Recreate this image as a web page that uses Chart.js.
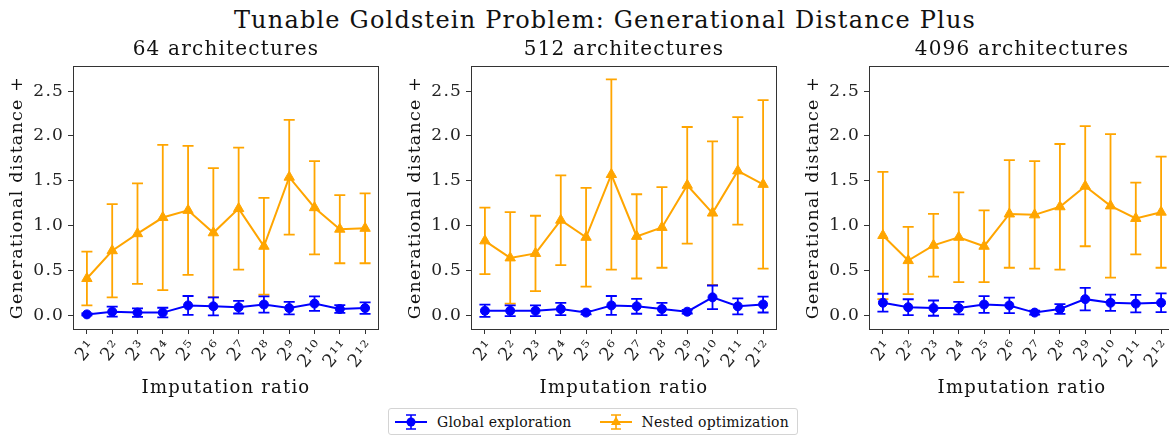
<!DOCTYPE html>
<html>
<head>
<meta charset="utf-8">
<script src="https://cdn.jsdelivr.net/npm/chart.js"></script>
<style>
  html, body { margin: 0; padding: 0; background: #fff; }
  body { width: 1169px; height: 435px; position: relative; overflow: hidden;
         font-family: "DejaVu Serif", serif; color: #111; }
  #suptitle { position: absolute; left: 0; width: 1210px; top: 5px; text-align: center;
              font-size: 24px; letter-spacing: 1.2px; line-height: 30px; }
  .panel { position: absolute; top: 0; }
  #legend { position: absolute; left: 388px; top: 408px; width: 408px; height: 25px;
            border: 1px solid #d4d4d4; border-radius: 3px; display: flex; align-items: center;
            font-size: 14px; letter-spacing: 0.2px; }
  #legend .item { display: flex; align-items: center; }
  #legend canvas { margin: 0 10px 0 6px; }
</style>
</head>
<body>
<div id="suptitle">Tunable Goldstein Problem: Generational Distance Plus</div>
<canvas id="c0" class="panel" width="390" height="400" style="left:0px"></canvas>
<canvas id="c1" class="panel" width="390" height="400" style="left:398px"></canvas>
<canvas id="c2" class="panel" width="390" height="400" style="left:796px"></canvas>
<div id="legend">
  <div class="item"><canvas id="lg0" width="32" height="20"></canvas><span>Global exploration</span></div>
  <div class="item" style="margin-left:22px"><canvas id="lg1" width="32" height="20"></canvas><span>Nested optimization</span></div>
</div>
<script>
const ratioLabels = ['2¹', '2²', '2³', '2⁴', '2⁵', '2⁶', '2⁷', '2⁸', '2⁹', '2¹⁰', '2¹¹', '2¹²'];
const panelTitles = ['64 architectures', '512 architectures', '4096 architectures'];
const yTicks = [0, 0.5, 1.0, 1.5, 2.0, 2.5];

// mean and standard deviation per imputation ratio
const global64 = [0.01, 0.04, 0.03, 0.03, 0.11, 0.10, 0.09, 0.12, 0.08, 0.13, 0.07, 0.08];
const global64Err = [0.01, 0.056, 0.047, 0.054, 0.105, 0.10, 0.07, 0.09, 0.07, 0.08, 0.043, 0.064];
const nested64 = [0.41, 0.72, 0.91, 1.09, 1.17, 0.92, 1.19, 0.77, 1.54, 1.20, 0.96, 0.97];
const nested64Err = [0.30, 0.52, 0.56, 0.81, 0.72, 0.72, 0.68, 0.54, 0.64, 0.52, 0.38, 0.39];

const global512 = [0.05, 0.05, 0.05, 0.07, 0.03, 0.11, 0.10, 0.07, 0.04, 0.20, 0.10, 0.12];
const global512Err = [0.068, 0.06, 0.06, 0.068, 0.02, 0.105, 0.083, 0.068, 0.02, 0.132, 0.089, 0.089];
const nested512 = [0.83, 0.64, 0.69, 1.06, 0.87, 1.57, 0.88, 0.98, 1.45, 1.14, 1.61, 1.46];
const nested512Err = [0.37, 0.51, 0.42, 0.50, 0.55, 1.06, 0.47, 0.45, 0.65, 0.80, 0.60, 0.94];

const global4096 = [0.14, 0.09, 0.08, 0.08, 0.12, 0.11, 0.03, 0.07, 0.18, 0.14, 0.13, 0.14];
const global4096Err = [0.10, 0.089, 0.085, 0.07, 0.093, 0.087, 0.022, 0.054, 0.125, 0.09, 0.097, 0.104];
const nested4096 = [0.89, 0.61, 0.78, 0.87, 0.77, 1.13, 1.12, 1.21, 1.44, 1.22, 1.08, 1.15];
const nested4096Err = [0.71, 0.375, 0.35, 0.50, 0.40, 0.60, 0.60, 0.70, 0.67, 0.80, 0.40, 0.62];

const panels = [
  [global64, global64Err, nested64, nested64Err],
  [global512, global512Err, nested512, nested512Err],
  [global4096, global4096Err, nested4096, nested4096Err]
];

const BLUE = '#0000ff';
const ORANGE = '#ffa500';
const FONT = '"DejaVu Serif", serif';
const CAP = 5.5;

// slightly wider text set on the canvas context before layout and drawing
const spacing = {
  id: 'spacing',
  beforeLayout(chart) { chart.ctx.letterSpacing = '1.2px'; },
  beforeDraw(chart) { chart.ctx.letterSpacing = '1.2px'; }
};

// vertical error bars with caps, drawn just before each line
const errorBars = {
  id: 'errorBars',
  beforeDatasetDraw(chart, args) {
    const ds = chart.data.datasets[args.index];
    const y = chart.scales.y;
    const ctx = chart.ctx;
    ctx.save();
    ctx.strokeStyle = ds.borderColor;
    ctx.lineWidth = 1.8;
    args.meta.data.forEach((pt, i) => {
      const m = ds.data[i].y, e = ds.errors[i];
      const top = y.getPixelForValue(m + e), bot = y.getPixelForValue(m - e);
      ctx.beginPath();
      ctx.moveTo(pt.x, top); ctx.lineTo(pt.x, bot);
      ctx.moveTo(pt.x - CAP, top); ctx.lineTo(pt.x + CAP, top);
      ctx.moveTo(pt.x - CAP, bot); ctx.lineTo(pt.x + CAP, bot);
      ctx.stroke();
    });
    ctx.restore();
  }
};

// box around the plotting area
const frame = {
  id: 'frame',
  afterDatasetsDraw(chart) {
    const a = chart.chartArea, ctx = chart.ctx;
    ctx.save();
    ctx.strokeStyle = '#333';
    ctx.lineWidth = 1;
    ctx.strokeRect(a.left + 0.5, a.top + 0.5, a.right - a.left - 1, a.bottom - a.top);
    ctx.restore();
  }
};

function toPoints(arr) { return arr.map((v, i) => ({ x: i, y: v })); }

panels.forEach(([g, gErr, n, nErr], k) => {
  new Chart(document.getElementById('c' + k), {
    type: 'line',
    data: {
      datasets: [
        {
          label: 'Global exploration',
          data: toPoints(g), errors: gErr,
          borderColor: BLUE, backgroundColor: BLUE, borderWidth: 2,
          pointStyle: 'circle', pointRadius: 4.5, pointBorderWidth: 1,
          pointBackgroundColor: BLUE, pointBorderColor: BLUE
        },
        {
          label: 'Nested optimization',
          data: toPoints(n), errors: nErr,
          borderColor: ORANGE, backgroundColor: ORANGE, borderWidth: 2,
          pointStyle: 'triangle', pointRadius: 6, pointBorderWidth: 1,
          pointBackgroundColor: ORANGE, pointBorderColor: ORANGE
        }
      ]
    },
    options: {
      responsive: false,
      animation: false,
      layout: { padding: { left: 0, right: 11, top: 0, bottom: 0 } },
      plugins: {
        legend: { display: false },
        tooltip: { enabled: false },
        title: {
          display: true, fullSize: false, text: panelTitles[k], color: '#111',
          font: { family: FONT, size: 20, weight: 'normal' },
          padding: { top: 38, bottom: 4 }
        }
      },
      scales: {
        x: {
          type: 'linear', min: -0.55, max: 11.55,
          afterBuildTicks: s => { s.ticks = ratioLabels.map((_, i) => ({ value: i })); },
          afterFit: s => { s.height = 71; },
          grid: { drawOnChartArea: false, drawTicks: true, tickLength: 5, color: '#333' },
          border: { display: false },
          ticks: {
            autoSkip: false,
            minRotation: 50, maxRotation: 50, padding: 2, labelOffset: 6, color: '#222',
            font: { family: FONT, size: 18 },
            callback: v => ratioLabels[v]
          },
          title: {
            display: true, text: 'Imputation ratio', color: '#111',
            font: { family: FONT, size: 18 }, padding: { top: 0, bottom: 1 }
          }
        },
        y: {
          min: -0.153, max: 2.78,
          afterBuildTicks: s => { s.ticks = yTicks.map(v => ({ value: v })); },
          afterFit: s => { s.width = 73; },
          grid: { drawOnChartArea: false, drawTicks: true, tickLength: 5, color: '#333' },
          border: { display: false },
          ticks: {
            padding: 4, color: '#222',
            font: { family: FONT, size: 17 },
            callback: v => v.toFixed(1)
          },
          title: {
            display: true, text: 'Generational distance +', color: '#111',
            font: { family: FONT, size: 17.5 }, padding: { top: 7, bottom: 0 }
          }
        }
      }
    },
    plugins: [spacing, errorBars, frame]
  });
});

// legend handles: line, error bar and marker
function drawHandle(id, color, marker) {
  const ctx = document.getElementById(id).getContext('2d');
  ctx.strokeStyle = color; ctx.fillStyle = color; ctx.lineWidth = 2;
  ctx.beginPath(); ctx.moveTo(0, 10); ctx.lineTo(32, 10); ctx.stroke();
  ctx.lineWidth = 1.6;
  ctx.beginPath();
  ctx.moveTo(16, 3); ctx.lineTo(16, 17);
  ctx.moveTo(11, 3); ctx.lineTo(21, 3);
  ctx.moveTo(11, 17); ctx.lineTo(21, 17);
  ctx.stroke();
  ctx.beginPath();
  if (marker === 'circle') {
    ctx.arc(16, 10, 4.5, 0, Math.PI * 2);
  } else {
    ctx.moveTo(16, 4.5); ctx.lineTo(21, 13); ctx.lineTo(11, 13); ctx.closePath();
  }
  ctx.fill();
}
drawHandle('lg0', BLUE, 'circle');
drawHandle('lg1', ORANGE, 'triangle');
</script>
</body>
</html>
